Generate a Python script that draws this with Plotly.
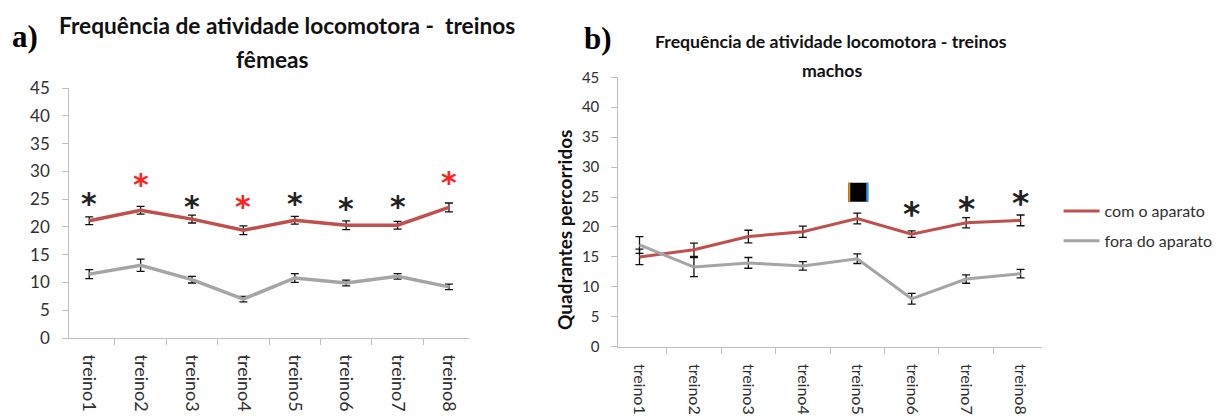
import plotly.graph_objects as go

W, H = 1218, 416

treinos = ["treino1", "treino2", "treino3", "treino4", "treino5", "treino6", "treino7", "treino8"]
y_ticks = [0, 5, 10, 15, 20, 25, 30, 35, 40, 45]

# a) females
femeas_com = [21.1, 23.0, 21.4, 19.4, 21.2, 20.3, 20.3, 23.5]
femeas_com_err = [0.7, 0.7, 0.7, 0.8, 0.7, 0.8, 0.7, 0.8]
femeas_fora = [11.5, 13.1, 10.5, 7.0, 10.8, 9.9, 11.1, 9.2]
femeas_fora_err = [0.8, 1.1, 0.6, 0.5, 0.8, 0.5, 0.5, 0.5]
femeas_sig_y = [25.1, 28.6, 24.6, 24.5, 25.1, 24.2, 24.6, 28.9]
femeas_sig_color = ["#222222", "#ff2020", "#222222", "#ff2020", "#222222", "#222222", "#222222", "#ff2020"]

# b) males
machos_com = [15.0, 16.2, 18.4, 19.2, 21.4, 18.8, 20.7, 21.1]
machos_com_err = [1.3, 1.1, 1.05, 0.95, 0.9, 0.55, 0.85, 0.9]
machos_fora = [17.0, 13.3, 14.0, 13.5, 14.7, 8.0, 11.3, 12.2]
machos_fora_err = [1.4, 1.6, 0.9, 0.7, 0.8, 0.9, 0.7, 0.7]
machos_sig_x = ["treino6", "treino7", "treino8"]
machos_sig_y = [23.1, 24.0, 24.9]
machos_box_x = ["treino5"]
machos_box_y = [25.8]

RED = "#C0504D"
GRAY = "#A5A5A5"
AXIS = "#BFBFBF"
TXT = "#303030"
FONT = "Lato"


def px_x(p):
    return p / W


def px_y(p):
    return 1 - p / H


err_style = dict(type="data", color="#111111", thickness=1.3, width=4)

fig = go.Figure()

# left panel: females
fig.add_trace(go.Scatter(
    x=treinos, y=femeas_com, mode="lines", line=dict(color=RED, width=3.5),
    error_y=dict(err_style, array=femeas_com_err),
    xaxis="x", yaxis="y", showlegend=False))
fig.add_trace(go.Scatter(
    x=treinos, y=femeas_fora, mode="lines", line=dict(color=GRAY, width=3.5),
    error_y=dict(err_style, array=femeas_fora_err),
    xaxis="x", yaxis="y", showlegend=False))

# right panel: males
fig.add_trace(go.Scatter(
    x=treinos, y=machos_com, mode="lines", name="com o aparato", legendgroup="com",
    line=dict(color=RED, width=3),
    error_y=dict(err_style, array=machos_com_err),
    xaxis="x2", yaxis="y2"))
fig.add_trace(go.Scatter(
    x=treinos, y=machos_fora, mode="lines", name="fora do aparato", legendgroup="fora",
    line=dict(color=GRAY, width=3),
    error_y=dict(err_style, array=machos_fora_err),
    xaxis="x2", yaxis="y2"))

# significance asterisks (glyph drawn a bit high in the font, so shifted down)
annotations = []
for t, yv, c in zip(treinos, femeas_sig_y, femeas_sig_color):
    annotations.append(dict(
        x=t, y=yv, xref="x", yref="y", text="*", showarrow=False,
        xanchor="center", yanchor="middle", yshift=-5,
        font=dict(family="DejaVu Sans", size=30, color=c, weight="bold")))
for t, yv in zip(machos_sig_x, machos_sig_y):
    annotations.append(dict(
        x=t, y=yv, xref="x2", yref="y2", text="*", showarrow=False,
        xanchor="center", yanchor="middle", yshift=-6,
        font=dict(family="DejaVu Sans", size=33, color="#222222", weight="bold")))

# filled square marker with thin coloured edges
shapes = []
for t, yv in zip(machos_box_x, machos_box_y):
    common = dict(type="rect", xref="x2", yref="y2", xsizemode="pixel", ysizemode="pixel",
                  xanchor=t, yanchor=yv, y0=-9.5, y1=9.5, line=dict(width=0), layer="above")
    shapes.append(dict(common, x0=-9, x1=11, fillcolor="#000000"))
    shapes.append(dict(common, x0=-9, x1=-7, fillcolor="#E0901E"))
    shapes.append(dict(common, x0=9, x1=11, fillcolor="#2E9BE0"))

axis_common = dict(
    showgrid=False, zeroline=False, showline=True, linecolor=AXIS, linewidth=1,
    ticks="outside", tickcolor=AXIS, ticklen=6, automargin=False,
)

annotations += [
    dict(text="Frequência de atividade locomotora -  treinos",
         xref="paper", yref="paper", x=px_x(290), y=px_y(25),
         xanchor="center", yanchor="middle", showarrow=False,
         font=dict(family=FONT, size=22.7, color="#111111", weight="bold")),
    dict(text="fêmeas",
         xref="paper", yref="paper", x=px_x(275), y=px_y(60),
         xanchor="center", yanchor="middle", showarrow=False,
         font=dict(family=FONT, size=22.7, color="#111111", weight="bold")),
    dict(text="a)", xref="paper", yref="paper", x=px_x(10), y=px_y(36),
         xanchor="left", yanchor="middle", showarrow=False,
         font=dict(family="Liberation Serif", size=31, color="#000000", weight="bold")),
    dict(text="Frequência de atividade locomotora - treinos",
         xref="paper", yref="paper", x=px_x(840), y=px_y(42),
         xanchor="center", yanchor="middle", showarrow=False,
         font=dict(family=FONT, size=17.7, color="#111111", weight="bold")),
    dict(text="machos",
         xref="paper", yref="paper", x=px_x(841), y=px_y(71),
         xanchor="center", yanchor="middle", showarrow=False,
         font=dict(family=FONT, size=17.7, color="#111111", weight="bold")),
    dict(text="b)", xref="paper", yref="paper", x=px_x(588), y=px_y(38),
         xanchor="left", yanchor="middle", showarrow=False,
         font=dict(family="Liberation Serif", size=31, color="#000000", weight="bold")),
    dict(text="Quadrantes percorridos", xref="paper", yref="paper",
         x=px_x(570), y=px_y(230), xanchor="center", yanchor="middle",
         textangle=-90, showarrow=False,
         font=dict(family=FONT, size=19, color="#111111", weight="bold")),
]

fig.update_layout(
    width=W, height=H, autosize=False,
    margin=dict(l=0, r=0, t=0, b=0),
    paper_bgcolor="white", plot_bgcolor="white",
    font=dict(family=FONT, color=TXT),
    xaxis=dict(axis_common, domain=[px_x(70), px_x(474)], type="category",
               tickson="boundaries", tickangle=90, anchor="y",
               tickfont=dict(size=18, color=TXT), ticklabelstandoff=12),
    yaxis=dict(axis_common, domain=[px_y(338), px_y(88)], range=[0, 45],
               tickvals=y_ticks, anchor="x",
               tickfont=dict(size=17, color=TXT), ticklabelstandoff=9),
    xaxis2=dict(axis_common, domain=[px_x(625), px_x(1053)], type="category",
                tickson="boundaries", tickangle=90, anchor="y2",
                tickfont=dict(size=16, color=TXT), ticklabelstandoff=13),
    yaxis2=dict(axis_common, domain=[px_y(346.7), px_y(77.3)], range=[0, 45],
                tickvals=y_ticks, anchor="x2",
                tickfont=dict(size=15, color=TXT), ticklabelstandoff=9),
    legend=dict(x=px_x(1070), y=px_y(194), xanchor="left", yanchor="top",
                font=dict(size=16, color=TXT), tracegroupgap=6,
                itemwidth=36, bgcolor="rgba(0,0,0,0)"),
    annotations=annotations,
    shapes=shapes,
)

fig.write_html("out.html")
